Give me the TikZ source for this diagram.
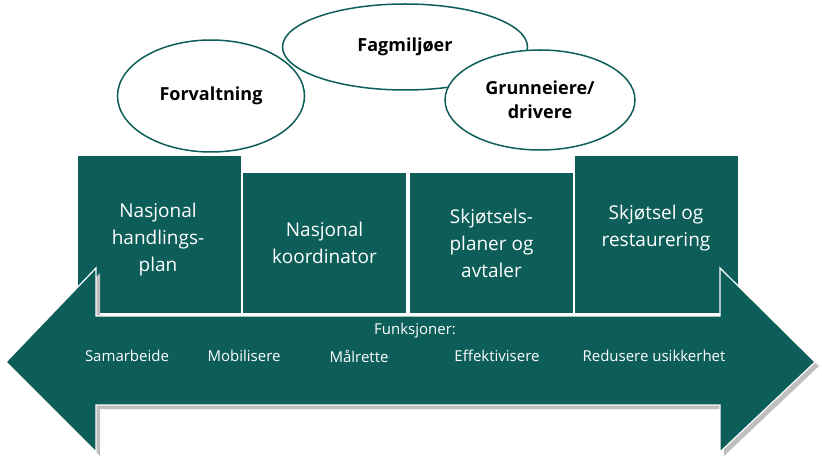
\documentclass[tikz,border=0pt]{standalone}
\usepackage{fontspec}
\setmainfont{Open Sans}
\usetikzlibrary{shapes.geometric}
\definecolor{teal1}{HTML}{0D5E58}
\tikzstyle{blob} = [ellipse, draw=teal1, line width=1.5pt, fill=white, text centered, align=center, font=\fontsize{18}{24}\selectfont\bfseries]
\tikzstyle{box} = [draw=white, line width=1pt, fill=teal1, text=white, text centered, align=center, font=\fontsize{19}{27}\selectfont]
\tikzstyle{func} = [text=white, font=\fontsize{15}{18}\selectfont]
\begin{document}
\begin{tikzpicture}[x=1pt, y=-1pt]
        \useasboundingbox (0,0) rectangle (822,462);
        % boxes
        \node[box, minimum width=164pt, minimum height=158pt, anchor=north west](b1) at (77,155){};
        \node[box, minimum width=164pt, minimum height=141pt, anchor=north west](b2) at (242,172){Nasjonal \\ koordinator};
        \node[box, minimum width=164pt, minimum height=141pt, anchor=north west](b3) at (409,172){Skjøtsels- \\ planer og \\ avtaler};
        \node[box, minimum width=164pt, minimum height=158pt, anchor=north west](b4) at (574,155){};
        \node[text=white, align=center, font=\fontsize{19}{27}\selectfont](t1) at (158,240){Nasjonal \\ handlings- \\ plan};
        \node[text=white, align=center, font=\fontsize{19}{27}\selectfont](t4) at (656,228){Skjøtsel og \\ restaurering};
        % double arrow
        \fill[gray!50] (10,366) -- (100,273) -- (100,320) -- (724,320) -- (724,273) -- (819,366) -- (724,456) -- (724,409) -- (100,409) -- (100,456) -- cycle;
        \draw[fill=teal1, draw=white, line width=1.2pt] (6,362) -- (96,268) -- (96,316) -- (720,316) -- (720,268) -- (815,362) -- (720,452) -- (720,405) -- (96,405) -- (96,452) -- cycle;
        \node[func](fx) at (415,331){Funksjoner:};
        \node[func](f1) at (127,356){Samarbeide};
        \node[func](f2) at (244,356){Mobilisere};
        \node[func](f3) at (359,356){Målrette};
        \node[func](f4) at (497,356){Effektivisere};
        \node[func](f5) at (654,356){Redusere usikkerhet};
        % circles
        \node[blob, minimum width=187pt, minimum height=112pt](e1) at (211,96){Forvaltning};
        \node[blob, minimum width=245pt, minimum height=86pt](e2) at (405,47){Fagmiljøer};
        \node[blob, minimum width=190pt, minimum height=100pt](e3) at (540,100){Grunneiere/ \\ drivere};
    \end{tikzpicture}
\end{document}
